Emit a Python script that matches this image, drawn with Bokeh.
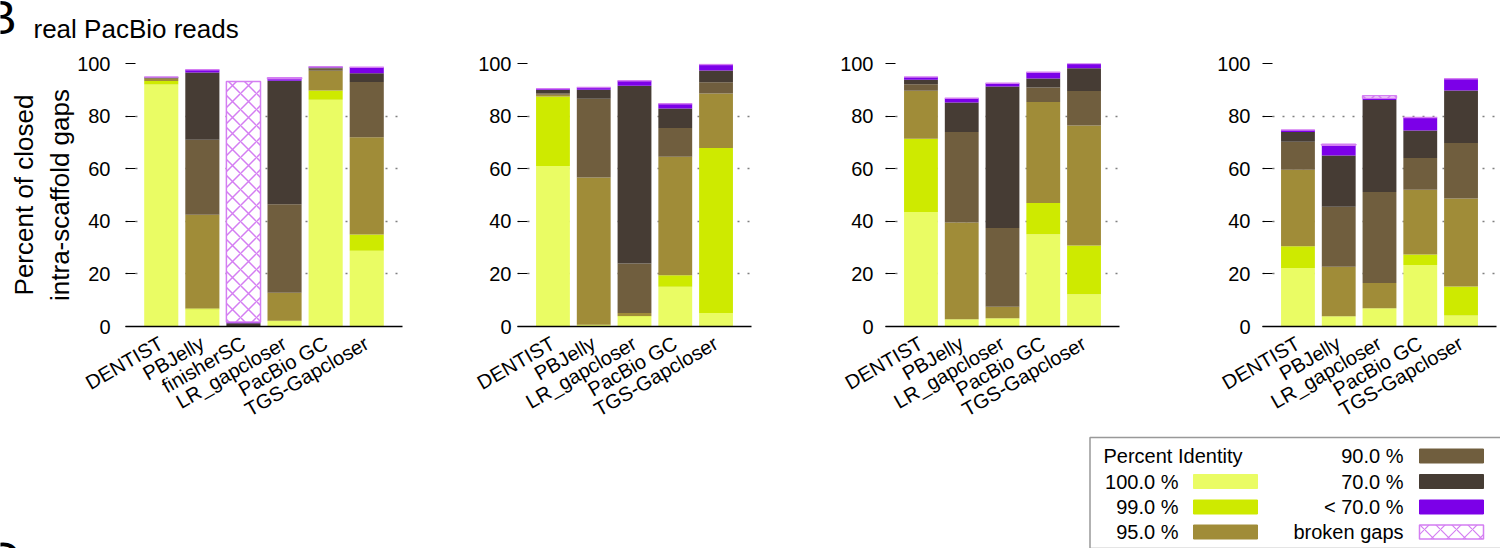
from math import pi
from bokeh.plotting import figure
from bokeh.models import FactorRange, Range1d, FixedTicker, ColumnDataSource
from bokeh.layouts import row, column
from bokeh.embed import file_html
from bokeh.resources import INLINE
from bokeh.core.properties import value

FONT = "Liberation Sans"

# ---------------- data ----------------
tools_p1 = ["DENTIST", "PBJelly", "finisherSC", "LR_gapcloser", "PacBio GC", "TGS-Gapcloser"]
tools_px = ["DENTIST", "PBJelly", "LR_gapcloser", "PacBio GC", "TGS-Gapcloser"]

bin_keys = ["i100", "i99", "i95", "i90", "i70", "ilt70", "broken"]
bin_labels = ["100.0 %", "99.0 %", "95.0 %", "90.0 %", "70.0 %", "< 70.0 %", "broken gaps"]
bin_colors = ["#eafc64", "#ceea00", "#a08c38", "#705e3e", "#463c34", "#7c00e8", "#d47ef2"]
legend_title = "Percent Identity"
ylabel = "Percent of closed\nintra-scaffold gaps"
subtitle = "real PacBio reads"
panel_letter = "B"
next_letter = "C"
yticks = [0, 20, 40, 60, 80, 100]

# panel 1
p1_i100 = [92.0, 6.5, 0.0, 2.0, 86.2, 28.8]
p1_i99 = [1.3, 0.3, 0.0, 0.2, 3.5, 6.2]
p1_i95 = [0.9, 35.7, 0.0, 10.6, 7.5, 37.0]
p1_i90 = [0.4, 28.5, 0.2, 33.7, 0.9, 21.0]
p1_i70 = [0.2, 25.6, 1.0, 46.9, 0.4, 3.3]
p1_ilt70 = [0.1, 1.0, 0.5, 0.8, 0.3, 2.3]
p1_broken = [0.0, 0.0, 91.5, 0.4, 0.0, 0.0]

# panel 2
p2_i100 = [61.0, 0.6, 3.8, 15.1, 5.1]
p2_i99 = [26.5, 0.1, 0.2, 4.4, 62.8]
p2_i95 = [0.6, 56.0, 1.1, 45.0, 20.7]
p2_i90 = [0.6, 29.9, 18.9, 11.0, 4.3]
p2_i70 = [1.2, 3.4, 67.5, 7.4, 4.4]
p2_ilt70 = [0.5, 0.9, 1.9, 1.8, 2.3]
p2_broken = [0.0, 0.0, 0.0, 0.0, 0.0]

# panel 3
p3_i100 = [43.5, 2.7, 3.0, 35.1, 12.3]
p3_i99 = [27.9, 0.1, 0.1, 11.9, 18.5]
p3_i95 = [18.2, 36.7, 4.4, 38.4, 45.6]
p3_i90 = [2.5, 34.5, 30.0, 5.5, 13.1]
p3_i70 = [1.7, 11.2, 53.8, 3.4, 8.7]
p3_ilt70 = [1.1, 1.6, 1.2, 2.4, 1.8]
p3_broken = [0.0, 0.0, 0.0, 0.0, 0.0]

# panel 4
p4_i100 = [22.2, 3.8, 6.8, 23.4, 4.2]
p4_i99 = [8.3, 0.1, 0.1, 4.0, 11.0]
p4_i95 = [29.1, 18.8, 9.6, 24.6, 33.5]
p4_i90 = [10.6, 22.8, 34.6, 12.1, 21.1]
p4_i70 = [3.8, 19.5, 35.0, 10.4, 19.9]
p4_ilt70 = [0.7, 3.9, 0.7, 5.0, 4.5]
p4_broken = [0.0, 0.4, 0.9, 0.0, 0.0]

# (tools, columns, border_left, frame_width, border_right, tick-label standoff)
panels = [
    (tools_p1, [p1_i100, p1_i99, p1_i95, p1_i90, p1_i70, p1_ilt70, p1_broken], 125, 277, 38, 15),
    (tools_px, [p2_i100, p2_i99, p2_i95, p2_i90, p2_i70, p2_ilt70, p2_broken], 77, 234, 69, 6),
    (tools_px, [p3_i100, p3_i99, p3_i95, p3_i90, p3_i70, p3_ilt70, p3_broken], 65, 234, 81, 12),
    (tools_px, [p4_i100, p4_i99, p4_i95, p4_i90, p4_i70, p4_ilt70, p4_broken], 62, 234, 4, 12),
]

BAR_W = 0.83
HATCH_SCALE = 16
fill_colors = bin_colors[:6] + ["white"]
line_colors = [None] * 6 + [bin_colors[6]]
hatches = [" "] * 6 + ["x"]


def clean(fig):
    fig.axis.visible = False
    fig.grid.visible = False
    fig.outline_line_color = None
    fig.background_fill_color = "white"
    fig.border_fill_color = "white"


# ---------------- header strip ----------------
head = figure(x_range=Range1d(0, 1500), y_range=Range1d(45, 0),
              frame_width=1500, frame_height=45,
              min_border_left=0, min_border_right=0, min_border_top=0, min_border_bottom=0,
              output_backend="svg", toolbar_location=None)
clean(head)
head.text(x=[-16], y=[17], text=[panel_letter], text_font=value(FONT), text_font_size="48px",
          text_align="left", text_baseline="middle", text_color="black")
head.text(x=[33], y=[28], text=[subtitle], text_font=value(FONT), text_font_size="26px",
          text_align="left", text_baseline="middle", text_color="black")

# ---------------- panels ----------------
figs = []
for idx, (tools, cols, bl, fw, br, lstand) in enumerate(panels):
    data = {"tool": tools}
    for k, c in zip(bin_keys, cols):
        data[k] = c
    src = ColumnDataSource(data)
    p = figure(x_range=FactorRange(*tools, range_padding=0.37, range_padding_units="absolute"),
               y_range=Range1d(0, 100),
               frame_width=fw, frame_height=263,
               min_border_left=bl, min_border_right=br, min_border_top=18, min_border_bottom=106,
               output_backend="svg", toolbar_location=None)
    p.vbar_stack(bin_keys, x="tool", width=BAR_W, source=src,
                 fill_color=fill_colors, line_color=line_colors, line_width=1.5,
                 hatch_pattern=hatches, hatch_color=bin_colors[6],
                 hatch_scale=HATCH_SCALE, hatch_weight=1.5)
    p.outline_line_color = None
    p.background_fill_color = "white"
    p.border_fill_color = "white"
    p.xgrid.visible = False
    p.ygrid.grid_line_color = "#808080"
    p.ygrid.grid_line_dash = "2 8"
    p.ygrid.grid_line_width = 1.5
    p.ygrid.ticker = FixedTicker(ticks=yticks[1:])

    p.xaxis.axis_line_color = "black"
    p.xaxis.axis_line_width = 1.5
    p.xaxis.major_tick_line_color = None
    p.xaxis.minor_tick_line_color = None
    p.xaxis.major_label_orientation = pi / 6
    p.xaxis.major_label_standoff = 9
    p.xaxis.major_label_text_font = FONT
    p.xaxis.major_label_text_font_size = "20px"
    p.xaxis.major_label_text_color = "black"

    p.yaxis.ticker = FixedTicker(ticks=yticks)
    p.yaxis.axis_line_color = None
    p.yaxis.major_tick_in = 10
    p.yaxis.major_tick_out = 0
    p.yaxis.major_tick_line_color = "black"
    p.yaxis.minor_tick_line_color = None
    p.yaxis.major_label_standoff = lstand
    p.yaxis.major_label_text_font = FONT
    p.yaxis.major_label_text_font_size = "20px"
    p.yaxis.major_label_text_color = "black"

    if idx == 0:
        p.yaxis.axis_label = ylabel
        p.yaxis.axis_label_text_font = FONT
        p.yaxis.axis_label_text_font_size = "26px"
        p.yaxis.axis_label_text_font_style = "normal"
        p.yaxis.axis_label_text_color = "black"
        p.yaxis.axis_label_standoff = -1
    figs.append(p)

# ---------------- legend strip ----------------
leg = figure(x_range=Range1d(0, 1500), y_range=Range1d(548, 432),
             frame_width=1500, frame_height=116,
             min_border_left=0, min_border_right=0, min_border_top=0, min_border_bottom=0,
             output_backend="svg", toolbar_location=None)
clean(leg)
leg.text(x=[-16], y=[558], text=[next_letter], text_font=value(FONT), text_font_size="48px",
         text_align="left", text_baseline="middle", text_color="black")
leg.quad(left=1089.5, right=1530, top=436, bottom=547, fill_color=None,
         line_color="#999999", line_width=1.5)

leg.text(x=[1103], y=[454.5], text=[legend_title], text_font=value(FONT),
         text_font_size="20px", text_align="left", text_baseline="middle", text_color="black")

left_rows = [480, 505.5, 530.5]
right_rows = [454.5, 480, 505.5, 530.5]
leg.text(x=[1178] * 3, y=left_rows, text=bin_labels[:3], text_font=value(FONT),
         text_font_size="20px", text_align="right", text_baseline="middle", text_color="black")
leg.text(x=[1403] * 4, y=right_rows, text=bin_labels[3:], text_font=value(FONT),
         text_font_size="20px", text_align="right", text_baseline="middle", text_color="black")
leg.rect(x=[1225] * 3, y=left_rows, width=64, height=14,
         fill_color=bin_colors[:3], line_color=bin_colors[:3])
leg.rect(x=[1451] * 3, y=right_rows[:3], width=64, height=14,
         fill_color=bin_colors[3:6], line_color=bin_colors[3:6])
leg.rect(x=[1451], y=right_rows[3:], width=64, height=14, fill_color="white",
         line_color=bin_colors[6], line_width=1.5, hatch_pattern="x", hatch_color=bin_colors[6],
         hatch_scale=HATCH_SCALE, hatch_weight=1.2)

layout = column(head, row(*figs), leg)

open("out.html", "w").write(file_html(layout, INLINE))
